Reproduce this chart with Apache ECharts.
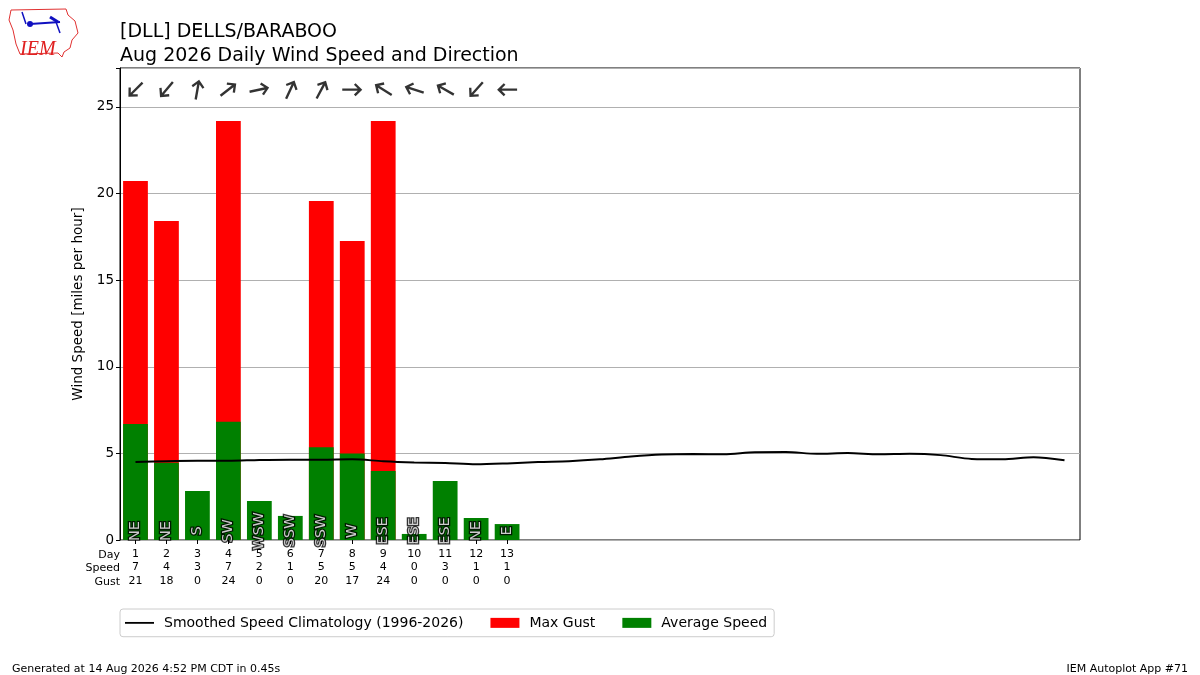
<!DOCTYPE html>
<html style="height: 100%">
    <head>
        <title>Daily Wind Speed and Direction</title>
        <script type="text/javascript" src="https://fastly.jsdelivr.net/npm/echarts@6.0.0/dist/echarts.min.js"></script>
    </head>
    <body style="height: 100%; margin: 0; background: #fff">
        <div id="target" style="width: 1200px; height: 675px"></div>
<script>

// days of the month (category axis)
const days = Array.from({length: 31}, (_, i) => String(i + 1));

// observed days 1..13
const avgSpeed = [6.70, 4.46, 2.83, 6.83, 2.25, 1.39, 5.35, 5.00, 3.98, 0.35, 3.41, 1.27, 0.92];
const maxGust = [20.73, 18.42, 0, 24.19, 0, 0, 19.57, 17.26, 24.19, 0, 0, 0, 0];
const dirLabels = ["NE", "NE", "S", "SW", "WSW", "SSW", "SSW", "W", "ESE", "ESE", "ESE", "NE", "E"];
// wind coming-from direction, degrees
const dirDegrees = [45, 40, 190, 232, 258, 205, 208, 270, 122, 108, 120, 42, 90];
const speedRow = [7, 4, 3, 7, 2, 1, 5, 5, 4, 0, 3, 1, 1];
const gustRow = [21, 18, 0, 24, 0, 0, 20, 17, 24, 0, 0, 0, 0];

const climo = [4.50, 4.55, 4.57, 4.57, 4.62, 4.64, 4.64, 4.66, 4.55, 4.48,
               4.44, 4.37, 4.42, 4.50, 4.55, 4.66, 4.82, 4.93, 4.96, 4.95,
               5.07, 5.08, 4.98, 5.02, 4.95, 4.98, 4.90, 4.68, 4.66, 4.78, 4.60];

// up-pointing arrow with open head, rotated per day
const arrowPath = "path://M6,0 L12,6 L10.5,7.5 L7.1,4.1 L7.1,18 L4.9,18 L4.9,4.1 L1.5,7.5 L0,6 Z";
const FONT = "DejaVu Sans";

let chart = echarts.init(document.getElementById('target'));

let arrowData = dirDegrees.map((d, i) => ({
    value: [i, 26.0],
    // point where the wind is going to; echarts rotates counterclockwise
    symbolRotate: -((d + 180) % 360),
}));

let labelData = dirLabels.map((d, i) => ({value: [i, 0.52], name: d}));

// direction text: a black outline layer under a white fill layer
function dirTextSeries(fill, border, z)
{
    return {
        type: "scatter",
        data: labelData,
        symbolSize: 0,
        silent: true,
        z: z,
        label: {
            show: true,
            position: "inside",
            rotate: 90,
            formatter: (p) => p.name,
            color: fill,
            fontSize: 14.5,
            textBorderColor: "#000",
            textBorderWidth: border,
        },
    };
}

let option = {
    animation: false,
    textStyle: {fontFamily: FONT},
    grid: {
        left: 120,
        right: 120,
        top: 68,
        bottom: 135,
        show: true,
        borderColor: "#000",
        borderWidth: 1,
        backgroundColor: "transparent",
    },
    legend: {
        left: 120,
        top: 609,
        padding: [0, 7, 0, 5],
        borderColor: "#ccc",
        borderWidth: 1,
        borderRadius: 3,
        itemGap: 27,
        itemWidth: 29,
        itemHeight: 10,
        textStyle: {fontSize: 14, lineHeight: 14, color: "#000", fontFamily: FONT, padding: [0, 0, 0, 5]},
        data: [
            {name: "Smoothed Speed Climatology (1996-2026)", icon: "path://M0,4 L32,4 L32,6 L0,6 Z"},
            {name: "Max Gust", icon: "rect"},
            {name: "Average Speed", icon: "rect"},
        ],
    },
    xAxis: {
        type: "category",
        data: days,
        boundaryGap: true,
        axisLine: {show: false},
        axisTick: {
            show: true,
            alignWithLabel: true,
            length: 4,
            lineStyle: {color: "#000"},
            interval: (idx) => idx < avgSpeed.length,
        },
        axisLabel: {
            interval: 0,
            margin: 7,
            fontSize: 11,
            lineHeight: 13.5,
            color: "#000",
            formatter: (v, idx) => idx < avgSpeed.length ? `${v}\n${speedRow[idx]}\n${gustRow[idx]}` : "",
        },
        splitLine: {show: false},
    },
    yAxis: {
        type: "value",
        min: 0,
        max: 27.25,
        interval: 5,
        name: "Wind Speed [miles per hour]",
        nameLocation: "middle",
        nameGap: 28,
        nameMoveOverlap: false,
        nameTextStyle: {fontSize: 13.5, color: "#000"},
        axisLine: {show: true, lineStyle: {color: "#000"}},
        axisTick: {show: true, length: 4, lineStyle: {color: "#000"}},
        axisLabel: {
            fontSize: 13.5,
            color: "#000",
            margin: 6,
            formatter: (v) => (v % 5 === 0 ? String(v) : ""),
        },
        splitLine: {show: true, lineStyle: {color: "#b0b0b0", width: 1}},
    },
    series: [
        {
            name: "Max Gust",
            type: "bar",
            data: maxGust,
            barWidth: "80%",
            barGap: "-100%",
            itemStyle: {color: "#ff0000"},
            z: 2,
        },
        {
            name: "Average Speed",
            type: "bar",
            data: avgSpeed,
            barWidth: "80%",
            itemStyle: {color: "#008000"},
            z: 3,
        },
        {
            name: "Smoothed Speed Climatology (1996-2026)",
            type: "line",
            data: climo,
            symbol: "none",
            smooth: 0.3,
            lineStyle: {color: "#000", width: 2},
            itemStyle: {color: "#000"},
            z: 5,
        },
        dirTextSeries("#000", 2.5, 6),
        dirTextSeries("#fff", 0, 7),
        {
            name: "arrows",
            type: "scatter",
            data: arrowData,
            symbol: arrowPath,
            symbolSize: [13, 20],
            itemStyle: {color: "#000"},
            silent: true,
            z: 6,
        },
    ],
    graphic: [
        {type: "text", left: 120, top: 13, style: {text: "[DLL] DELLS/BARABOO", fontSize: 19, fill: "#000", fontFamily: FONT}},
        {type: "text", left: 120, top: 37, style: {text: "Aug 2026 Daily Wind Speed and Direction", fontSize: 19, fill: "#000", fontFamily: FONT}},
        {type: "text", x: 120, y: 555, style: {text: "Day", fontSize: 11, fill: "#000", align: "right", verticalAlign: "middle", fontFamily: FONT}},
        {type: "text", x: 120, y: 568.5, style: {text: "Speed", fontSize: 11, fill: "#000", align: "right", verticalAlign: "middle", fontFamily: FONT}},
        {type: "text", x: 120, y: 582, style: {text: "Gust", fontSize: 11, fill: "#000", align: "right", verticalAlign: "middle", fontFamily: FONT}},
        {type: "text", left: 12, top: 658, style: {text: "Generated at 14 Aug 2026 4:52 PM CDT in 0.45s", fontSize: 11, fill: "#000", fontFamily: FONT}},
        {type: "text", right: 12, top: 658, style: {text: "IEM Autoplot App #71", fontSize: 11, fill: "#000", fontFamily: FONT}},
        // rough IEM logo
        {
            type: "polyline",
            shape: {points: [[11, 10], [66, 9], [68, 15], [75, 21], [78, 33], [72, 40], [70, 48], [64, 52], [62, 57], [58, 53], [20, 54], [16, 44], [13, 30], [9, 20], [11, 10]]},
            style: {stroke: "#e03030", fill: "none", lineWidth: 1},
        },
        {type: "line", shape: {x1: 30, y1: 24, x2: 60, y2: 22}, style: {stroke: "#1010c0", lineWidth: 2}},
        {type: "circle", shape: {cx: 30, cy: 24, r: 3}, style: {fill: "#1010c0"}},
        {type: "line", shape: {x1: 26, y1: 24, x2: 22, y2: 12}, style: {stroke: "#1010c0", lineWidth: 1.5}},
        {type: "line", shape: {x1: 50, y1: 17, x2: 58, y2: 22}, style: {stroke: "#1010c0", lineWidth: 3}},
        {type: "line", shape: {x1: 56, y1: 22, x2: 60, y2: 33}, style: {stroke: "#1010c0", lineWidth: 1.5}},
        {type: "text", left: 20, top: 34, style: {text: "IEM", fontSize: 20, fontStyle: "italic", fontFamily: "Liberation Serif", fill: "#e02020"}},
    ],
};

chart.setOption(option);

</script>
    </body>
</html>
